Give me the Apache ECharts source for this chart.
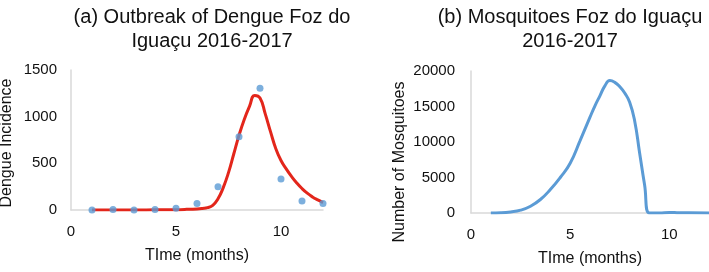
<!doctype html>
<html lang="en">
<head>
<meta charset="UTF-8">
<title>Dengue and mosquitoes, Foz do Iguaçu</title>
<style>
  html, body { margin: 0; padding: 0; background: #fff; }
  #main { width: 709px; height: 272px; }
</style>
</head>
<body>
<div id="main"></div>
<script src="https://cdn.jsdelivr.net/npm/echarts@6/dist/echarts.min.js"></script>
<script>
// (a) observed dengue incidence per month
var dengueMonths = [1, 2, 3, 4, 5, 6, 7, 8, 9, 10, 11, 12];
var dengueCases = [0, 5, 0, 5, 20, 70, 250, 785, 1305, 332, 96, 70];

// (a) fitted curve
var fitX = [1, 2, 3, 4, 5, 5.5, 6, 6.25, 6.5, 6.75, 7, 7.25, 7.5, 7.75, 8, 8.25, 8.5, 8.75,
            9, 9.25, 9.5, 9.75, 10, 10.25, 10.5, 10.75, 11, 11.25, 11.5, 11.75, 12];
var fitY = [0, 0, 0, 2, 4, 7, 12, 17, 25, 50, 120, 240, 400, 600, 800, 970, 1110, 1228,
            1200, 1030, 840, 660, 530, 440, 360, 290, 230, 180, 140, 108, 80];

// (b) mosquito population curve
var mosqX = [1, 1.5, 2, 2.5, 3, 3.5, 4, 4.5, 5, 5.5, 6, 6.25, 6.5, 6.75, 7, 7.25, 7.5, 7.75,
             8, 8.25, 8.5, 8.75, 9, 9.5, 10, 10.5, 11, 12];
var mosqY = [0, 30, 150, 400, 950, 1900, 3300, 5000, 7000, 10200, 13500, 15100, 16500, 17900,
             18650, 18400, 17800, 16900, 15600, 13000, 8500, 4000, 0, 0, 80, 30, 20, 0];

var xTicks = { min: 0, max: 12, interval: 5 };

function pairs(xs, ys) {
  return xs.map(function (x, i) { return [x, ys[i]]; });
}

var font = 'Liberation Sans';
var txt = '#111';
var axisGray = '#d9d9d9';

function xAxisCfg(grid) {
  return {
    gridIndex: grid, type: 'value', min: xTicks.min, max: xTicks.max, interval: xTicks.interval,
    name: 'TIme (months)', nameLocation: 'middle', nameGap: 38,
    nameTextStyle: { fontFamily: font, fontSize: 16, color: txt },
    axisLine: { show: true, lineStyle: { color: axisGray, width: 1.5 } },
    axisTick: { show: false },
    splitLine: { show: false },
    axisLabel: { fontFamily: font, fontSize: 15, color: txt, margin: 14, showMaxLabel: false }
  };
}

function yAxisCfg(grid, max, interval, margin) {
  return {
    gridIndex: grid, type: 'value', min: 0, max: max, interval: interval,
    axisLine: { show: true, lineStyle: { color: axisGray, width: 1.5 } },
    axisTick: { show: false },
    splitLine: { show: false },
    axisLabel: { fontFamily: font, fontSize: 15, color: txt, margin: margin,
                 formatter: function (v) { return String(v); } }
  };
}

var myChart = echarts.init(document.getElementById('main'));

var option = {
  backgroundColor: '#fff',
  animation: false,
  title: [
    {
      text: '(a) Outbreak of Dengue Foz do\nIguaçu 2016-2017',
      left: 207, top: 0, textAlign: 'center',
      textStyle: { fontFamily: font, fontSize: 20, fontWeight: 'normal', color: txt, lineHeight: 24 }
    },
    {
      text: '(b) Mosquitoes Foz do Iguaçu\n2016-2017',
      left: 565, top: 0, textAlign: 'center',
      textStyle: { fontFamily: font, fontSize: 20, fontWeight: 'normal', color: txt, lineHeight: 24 }
    }
  ],
  graphic: [
    {
      type: 'text', x: 7, y: 143, rotation: Math.PI / 2,
      style: { text: 'Dengue Incidence', fontFamily: font, fontSize: 16, fill: txt,
               textAlign: 'center', textVerticalAlign: 'middle' }
    },
    {
      type: 'text', x: 400, y: 162, rotation: Math.PI / 2,
      style: { text: 'Number of Mosquitoes', fontFamily: font, fontSize: 16, fill: txt,
               textAlign: 'center', textVerticalAlign: 'middle' }
    }
  ],
  grid: [
    { left: 71, right: 386, top: 70, bottom: 62 },
    { left: 471, right: 0, top: 71, bottom: 57 }
  ],
  xAxis: [xAxisCfg(0), xAxisCfg(1)],
  yAxis: [yAxisCfg(0, 1500, 500, 14), yAxisCfg(1, 20000, 5000, 16)],
  series: [
    {
      type: 'line', xAxisIndex: 0, yAxisIndex: 0, data: pairs(fitX, fitY),
      smooth: 0.5, showSymbol: false,
      lineStyle: { color: '#e3261b', width: 3 }, z: 2
    },
    {
      type: 'scatter', xAxisIndex: 0, yAxisIndex: 0, data: pairs(dengueMonths, dengueCases),
      symbolSize: 7, itemStyle: { color: '#5b9bd5' }, z: 3
    },
    {
      type: 'line', xAxisIndex: 1, yAxisIndex: 1, data: pairs(mosqX, mosqY),
      smooth: 0.5, showSymbol: false,
      lineStyle: { color: '#5b9bd5', width: 3 }
    }
  ]
};

myChart.setOption(option);
</script>
</body>
</html>
